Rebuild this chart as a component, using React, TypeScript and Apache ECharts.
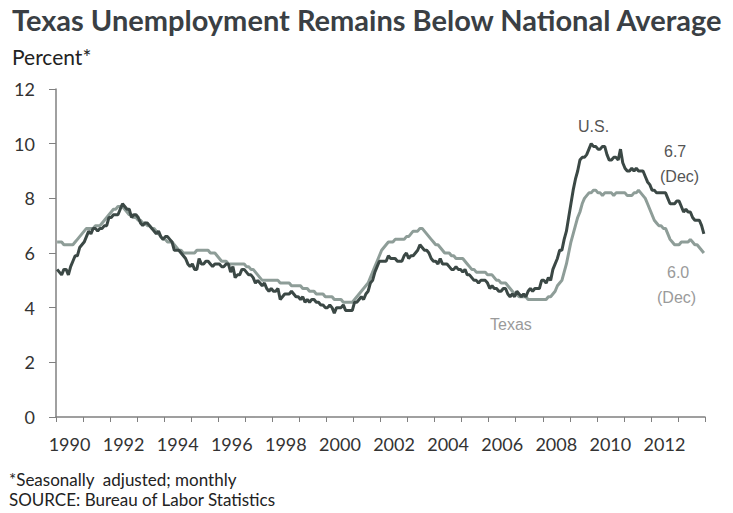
import React, { useEffect, useRef } from "react";
import * as echarts from "echarts";

const START_YEAR = 1990;
const yearCategories = Array.from({ length: 24 }, (_, i) => String(START_YEAR + i));
const yTicks = [0, 2, 4, 6, 8, 10, 12];

// Monthly, seasonally adjusted unemployment rate (percent), Jan 1990 – Dec 2013
const usRate = [
  5.4, 5.3, 5.2, 5.4, 5.4, 5.2, 5.5, 5.7, 5.9, 5.9, 6.2, 6.3,
  6.4, 6.6, 6.8, 6.7, 6.9, 6.9, 6.8, 6.9, 6.9, 7.0, 7.0, 7.3,
  7.3, 7.4, 7.4, 7.4, 7.6, 7.8, 7.7, 7.6, 7.6, 7.3, 7.4, 7.4,
  7.3, 7.1, 7.0, 7.1, 7.1, 7.0, 6.9, 6.8, 6.7, 6.8, 6.6, 6.5,
  6.6, 6.6, 6.5, 6.4, 6.1, 6.1, 6.1, 6.0, 5.9, 5.8, 5.6, 5.5,
  5.6, 5.4, 5.4, 5.8, 5.6, 5.6, 5.7, 5.7, 5.6, 5.5, 5.6, 5.6,
  5.6, 5.5, 5.5, 5.6, 5.6, 5.3, 5.5, 5.1, 5.2, 5.2, 5.4, 5.4,
  5.3, 5.2, 5.2, 5.1, 4.9, 5.0, 4.9, 4.8, 4.9, 4.7, 4.6, 4.7,
  4.6, 4.6, 4.7, 4.3, 4.4, 4.5, 4.5, 4.5, 4.6, 4.5, 4.4, 4.4,
  4.3, 4.4, 4.2, 4.3, 4.2, 4.3, 4.3, 4.2, 4.2, 4.1, 4.1, 4.0,
  4.0, 4.1, 4.0, 3.8, 4.0, 4.0, 4.0, 4.1, 3.9, 3.9, 3.9, 3.9,
  4.2, 4.2, 4.3, 4.4, 4.3, 4.5, 4.6, 4.9, 5.0, 5.3, 5.5, 5.7,
  5.7, 5.7, 5.7, 5.9, 5.8, 5.8, 5.8, 5.7, 5.7, 5.7, 5.9, 6.0,
  5.8, 5.9, 5.9, 6.0, 6.1, 6.3, 6.2, 6.1, 6.1, 6.0, 5.8, 5.7,
  5.7, 5.6, 5.8, 5.6, 5.6, 5.6, 5.5, 5.4, 5.4, 5.5, 5.4, 5.4,
  5.3, 5.4, 5.2, 5.2, 5.1, 5.0, 5.0, 4.9, 5.0, 5.0, 5.0, 4.9,
  4.7, 4.8, 4.7, 4.7, 4.6, 4.6, 4.7, 4.7, 4.5, 4.4, 4.5, 4.4,
  4.6, 4.5, 4.4, 4.5, 4.4, 4.6, 4.7, 4.6, 4.7, 4.7, 4.7, 5.0,
  5.0, 4.9, 5.1, 5.0, 5.4, 5.6, 5.8, 6.1, 6.1, 6.5, 6.8, 7.3,
  7.8, 8.3, 8.7, 9.0, 9.4, 9.5, 9.5, 9.6, 9.8, 10.0, 9.9, 9.9,
  9.8, 9.8, 9.9, 9.9, 9.6, 9.4, 9.4, 9.5, 9.5, 9.4, 9.8, 9.3,
  9.1, 9.0, 9.0, 9.1, 9.0, 9.1, 9.0, 9.0, 9.0, 8.8, 8.6, 8.5,
  8.3, 8.3, 8.2, 8.2, 8.2, 8.2, 8.2, 8.0, 7.8, 7.8, 7.8, 7.9,
  7.9, 7.7, 7.5, 7.6, 7.5, 7.5, 7.3, 7.2, 7.2, 7.2, 7.0, 6.7,
];

const texasRate = [
  6.4, 6.4, 6.4, 6.3, 6.3, 6.3, 6.3, 6.3, 6.4, 6.5, 6.6, 6.7,
  6.8, 6.9, 6.9, 6.9, 6.9, 7.0, 7.0, 7.0, 7.1, 7.2, 7.3, 7.4,
  7.5, 7.6, 7.6, 7.7, 7.7, 7.7, 7.6, 7.5, 7.4, 7.4, 7.3, 7.3,
  7.2, 7.2, 7.1, 7.1, 7.0, 7.0, 6.9, 6.9, 6.8, 6.7, 6.6, 6.5,
  6.5, 6.4, 6.4, 6.4, 6.3, 6.2, 6.1, 6.1, 6.0, 6.0, 6.0, 6.0,
  6.0, 6.0, 6.1, 6.1, 6.1, 6.1, 6.1, 6.1, 6.0, 6.0, 6.0, 5.9,
  5.8, 5.7, 5.7, 5.7, 5.6, 5.6, 5.6, 5.6, 5.6, 5.6, 5.6, 5.6,
  5.5, 5.5, 5.4, 5.4, 5.3, 5.2, 5.1, 5.0, 5.0, 5.0, 5.0, 5.0,
  5.0, 5.0, 5.0, 4.9, 4.9, 4.9, 4.9, 4.9, 4.8, 4.8, 4.8, 4.8,
  4.8, 4.7, 4.7, 4.7, 4.6, 4.6, 4.6, 4.5, 4.5, 4.5, 4.5, 4.4,
  4.4, 4.4, 4.4, 4.3, 4.3, 4.3, 4.3, 4.2, 4.2, 4.2, 4.2, 4.2,
  4.3, 4.4, 4.5, 4.6, 4.7, 4.8, 4.9, 5.1, 5.3, 5.5, 5.7, 5.9,
  6.1, 6.2, 6.3, 6.4, 6.4, 6.4, 6.5, 6.5, 6.5, 6.5, 6.5, 6.6,
  6.6, 6.7, 6.8, 6.8, 6.8, 6.9, 6.9, 6.8, 6.7, 6.6, 6.5, 6.4,
  6.3, 6.3, 6.2, 6.1, 6.0, 6.0, 6.0, 5.9, 5.9, 5.8, 5.8, 5.8,
  5.8, 5.7, 5.6, 5.5, 5.4, 5.4, 5.3, 5.3, 5.3, 5.3, 5.3, 5.2,
  5.2, 5.2, 5.1, 5.0, 5.0, 4.9, 4.9, 4.9, 4.8, 4.7, 4.6, 4.5,
  4.5, 4.4, 4.4, 4.4, 4.4, 4.3, 4.3, 4.3, 4.3, 4.3, 4.3, 4.3,
  4.3, 4.3, 4.4, 4.4, 4.5, 4.6, 4.8, 4.9, 5.0, 5.3, 5.6, 6.0,
  6.4, 6.7, 7.0, 7.3, 7.5, 7.8, 8.0, 8.1, 8.2, 8.2, 8.3, 8.3,
  8.2, 8.2, 8.1, 8.2, 8.2, 8.2, 8.2, 8.1, 8.2, 8.2, 8.2, 8.2,
  8.2, 8.1, 8.1, 8.1, 8.2, 8.2, 8.3, 8.2, 8.1, 8.0, 7.8, 7.6,
  7.4, 7.2, 7.1, 7.0, 7.0, 6.9, 6.9, 6.7, 6.5, 6.4, 6.3, 6.3,
  6.3, 6.4, 6.4, 6.4, 6.4, 6.5, 6.4, 6.3, 6.3, 6.2, 6.1, 6.0,
];

const toPoints = (vals: number[]) =>
  vals.map((v, i) => [START_YEAR + Math.floor(i / 12) + ((i % 12) + 0.5) / 12, v]);

export default function App() {
  const ref = useRef<HTMLDivElement>(null);
  useEffect(() => {
    document.body.style.margin = "0";
    const chart = echarts.init(ref.current!, null, { renderer: "svg" });
    const tickFont = "Lato, 'Open Sans', sans-serif";
    const noteFont = "16px 'Liberation Sans', Arial, sans-serif";
    chart.setOption({
      animation: false,
      backgroundColor: "#ffffff",
      grid: { left: 56, right: 28, top: 89, bottom: 96, containLabel: false },
      xAxis: [
        {
          type: "category",
          data: yearCategories,
          boundaryGap: true,
          axisLine: { lineStyle: { color: "#808080", width: 1.5 } },
          axisTick: { show: true, interval: 0, length: 5, alignWithLabel: false, lineStyle: { color: "#808080" } },
          axisLabel: { interval: 1, color: "#333", fontFamily: tickFont, fontSize: 18, margin: 18 },
          splitLine: { show: false },
        },
        {
          type: "value",
          min: START_YEAR,
          max: START_YEAR + 24,
          show: false,
          splitLine: { show: false },
        },
      ],
      yAxis: {
        type: "value",
        min: yTicks[0],
        max: yTicks[yTicks.length - 1],
        interval: 2,
        axisLine: { show: true, lineStyle: { color: "#808080", width: 1.5 } },
        axisTick: { show: true, length: 7, lineStyle: { color: "#808080" } },
        axisLabel: { color: "#333", fontFamily: tickFont, fontSize: 18, margin: 21 },
        splitLine: { show: false },
      },
      series: [
        {
          name: "Texas",
          type: "line",
          xAxisIndex: 1,
          data: toPoints(texasRate),
          showSymbol: false,
          lineStyle: { color: "#8e9d98", width: 3 },
          z: 2,
        },
        {
          name: "U.S.",
          type: "line",
          xAxisIndex: 1,
          data: toPoints(usRate),
          showSymbol: false,
          lineStyle: { color: "#3b4845", width: 3 },
          z: 3,
        },
      ],
      graphic: [
        {
          type: "text",
          left: 12,
          top: 5,
          style: {
            text: "Texas Unemployment Remains Below National Average",
            fill: "#3a3f44",
            font: "bold 29px Lato, sans-serif",
          },
        },
        {
          type: "text",
          left: 12,
          top: 46,
          style: { text: "Percent*", fill: "#222", font: "21px Lato, sans-serif" },
        },
        { type: "text", left: 578, top: 118, style: { text: "U.S.", fill: "#555", font: noteFont } },
        { type: "text", left: 664, top: 143, style: { text: "6.7", fill: "#555", font: noteFont } },
        { type: "text", left: 660, top: 168, style: { text: "(Dec)", fill: "#555", font: noteFont } },
        { type: "text", left: 667, top: 264, style: { text: "6.0", fill: "#9a9a9a", font: noteFont } },
        { type: "text", left: 657, top: 289, style: { text: "(Dec)", fill: "#9a9a9a", font: noteFont } },
        { type: "text", left: 490, top: 316, style: { text: "Texas", fill: "#9a9a9a", font: noteFont } },
        {
          type: "text",
          left: 9,
          top: 471,
          style: { text: "*Seasonally  adjusted; monthly", fill: "#222", font: "17px Lato, sans-serif" },
        },
        {
          type: "text",
          left: 9,
          top: 491,
          style: { text: "SOURCE: Bureau of Labor Statistics", fill: "#222", font: "17px Lato, sans-serif" },
        },
      ],
    });
    return () => chart.dispose();
  }, []);
  return <div ref={ref} style={{ width: 733, height: 513 }} />;
}
